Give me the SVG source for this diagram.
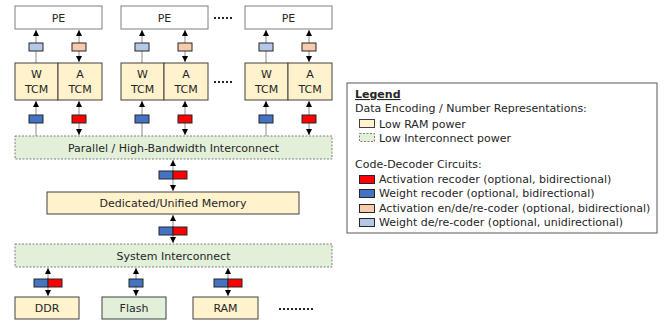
<svg xmlns="http://www.w3.org/2000/svg" width="664" height="324" viewBox="0 0 664 324">
<style>
text{font-family:"DejaVu Sans","Liberation Sans",sans-serif;font-size:11px;fill:#262626}
.lg text{font-size:11px}
.pe{fill:#fff;stroke:#7f7f7f;stroke-width:1}
.mem{fill:#fff2cc;stroke:#404040;stroke-width:1}
.ic{fill:#e2f0d9;stroke:#7f7f7f;stroke-width:1;stroke-dasharray:2,1.5}
.fl{fill:#e2f0d9;stroke:#404040;stroke-width:1}
.blue{fill:#4472c4;stroke:#262626;stroke-width:1}
.red{fill:#ff0000;stroke:#262626;stroke-width:1}
.peach{fill:#f8cbad;stroke:#262626;stroke-width:1}
.lb{fill:#b4c7e7;stroke:#262626;stroke-width:1}
.ln{stroke:#8c8c8c;stroke-width:1;fill:none}
.u{marker-end:url(#ah)}
.b{marker-start:url(#ah);marker-end:url(#ah)}
.dots{stroke:#262626;stroke-width:2;stroke-dasharray:2,2}
</style>
<defs>
<marker id="ah" viewBox="0 0 6 6" refX="6" refY="3" markerWidth="6" markerHeight="6" markerUnits="userSpaceOnUse" orient="auto-start-reverse">
<path d="M0,0 L6,3 L0,6 z" fill="#000"/>
</marker>
</defs>

<g id="connectors">
<line class="ln u" x1="36" y1="63" x2="36" y2="30"/>
<line class="ln b" x1="79" y1="30" x2="79" y2="62"/>
<line class="ln u" x1="142" y1="63" x2="142" y2="30"/>
<line class="ln b" x1="185" y1="30" x2="185" y2="62"/>
<line class="ln u" x1="266" y1="63" x2="266" y2="30"/>
<line class="ln b" x1="309" y1="30" x2="309" y2="62"/>
<line class="ln u" x1="36" y1="136" x2="36" y2="101"/>
<line class="ln b" x1="79" y1="101" x2="79" y2="135"/>
<line class="ln u" x1="142" y1="136" x2="142" y2="101"/>
<line class="ln b" x1="185" y1="101" x2="185" y2="135"/>
<line class="ln u" x1="266" y1="136" x2="266" y2="101"/>
<line class="ln b" x1="309" y1="101" x2="309" y2="135"/>
<line class="ln b" x1="173" y1="160" x2="173" y2="191"/>
<line class="ln b" x1="173" y1="215" x2="173" y2="243"/>
<line class="ln b" x1="48" y1="268" x2="48" y2="296"/>
<line class="ln b" x1="136" y1="268" x2="136" y2="296"/>
<line class="ln b" x1="228" y1="268" x2="228" y2="296"/>
</g>

<g id="pe1"><rect class="pe" x="15" y="6" width="87" height="23"/><text x="58.5" y="21.5" text-anchor="middle">PE</text></g>
<g id="pe2"><rect class="pe" x="121" y="6" width="87" height="23"/><text x="164.5" y="21.5" text-anchor="middle">PE</text></g>
<g id="pe3"><rect class="pe" x="245" y="6" width="87" height="23"/><text x="288.5" y="21.5" text-anchor="middle">PE</text></g>
<g id="dots-pe"><line class="dots" x1="214" y1="18" x2="234" y2="18"/></g>

<g id="tcm1">
<rect class="mem" x="15" y="63" width="43" height="37"/><rect class="mem" x="58" y="63" width="44" height="37"/>
<text x="36.5" y="78" text-anchor="middle">W</text><text x="36.5" y="93" text-anchor="middle">TCM</text>
<text x="80" y="78" text-anchor="middle">A</text><text x="80" y="93" text-anchor="middle">TCM</text>
</g>
<g id="tcm2">
<rect class="mem" x="121" y="63" width="43" height="37"/><rect class="mem" x="164" y="63" width="44" height="37"/>
<text x="142.5" y="78" text-anchor="middle">W</text><text x="142.5" y="93" text-anchor="middle">TCM</text>
<text x="186" y="78" text-anchor="middle">A</text><text x="186" y="93" text-anchor="middle">TCM</text>
</g>
<g id="tcm3">
<rect class="mem" x="245" y="63" width="43" height="37"/><rect class="mem" x="288" y="63" width="44" height="37"/>
<text x="266.5" y="78" text-anchor="middle">W</text><text x="266.5" y="93" text-anchor="middle">TCM</text>
<text x="310" y="78" text-anchor="middle">A</text><text x="310" y="93" text-anchor="middle">TCM</text>
</g>
<g id="dots-tcm"><line class="dots" x1="214" y1="82" x2="234" y2="82"/></g>

<g id="coders-upper">
<rect class="lb" x="29" y="43" width="14" height="8"/><rect class="peach" x="72" y="43" width="14" height="8"/>
<rect class="lb" x="135" y="43" width="14" height="8"/><rect class="peach" x="178" y="43" width="14" height="8"/>
<rect class="lb" x="259" y="43" width="14" height="8"/><rect class="peach" x="302" y="43" width="14" height="8"/>
</g>
<g id="coders-lower">
<rect class="blue" x="29" y="115" width="14" height="8"/><rect class="red" x="72" y="115" width="14" height="8"/>
<rect class="blue" x="135" y="115" width="14" height="8"/><rect class="red" x="178" y="115" width="14" height="8"/>
<rect class="blue" x="259" y="115" width="14" height="8"/><rect class="red" x="302" y="115" width="14" height="8"/>
</g>

<g id="parallel-ic"><rect class="ic" x="15" y="136" width="317" height="23"/><text x="173.5" y="151.5" text-anchor="middle">Parallel / High-Bandwidth Interconnect</text></g>

<g id="coder-c1"><rect class="blue" x="159" y="171" width="14" height="8"/><rect class="red" x="173" y="171" width="14" height="8"/></g>
<g id="memory"><rect class="mem" x="47" y="192" width="252" height="22"/><text x="173" y="207" text-anchor="middle">Dedicated/Unified Memory</text></g>
<g id="coder-c2"><rect class="blue" x="159" y="227" width="14" height="8"/><rect class="red" x="173" y="227" width="14" height="8"/></g>

<g id="system-ic"><rect class="ic" x="15" y="244" width="317" height="23"/><text x="173.5" y="259.5" text-anchor="middle">System Interconnect</text></g>

<g id="coder-ddr"><rect class="blue" x="34" y="279" width="14" height="8"/><rect class="red" x="48" y="279" width="14" height="8"/></g>
<g id="coder-flash"><rect class="blue" x="129" y="279" width="14" height="8"/></g>
<g id="coder-ram"><rect class="blue" x="214" y="279" width="14" height="8"/><rect class="red" x="228" y="279" width="14" height="8"/></g>

<g id="ddr"><rect class="mem" x="15" y="297" width="64" height="22"/><text x="47" y="312" text-anchor="middle">DDR</text></g>
<g id="flash"><rect class="fl" x="102" y="297" width="64" height="22"/><text x="134" y="312" text-anchor="middle">Flash</text></g>
<g id="ram"><rect class="mem" x="193" y="297" width="65" height="22"/><text x="225.5" y="312" text-anchor="middle">RAM</text></g>
<g id="dots-bottom"><line class="dots" x1="279" y1="309" x2="315" y2="309"/></g>

<g id="legend" class="lg">
<rect x="347" y="83" width="310" height="150" fill="#fff" stroke="#595959" stroke-width="1"/>
<text x="355" y="98" font-weight="bold" text-decoration="underline">Legend</text>
<text x="355" y="112">Data Encoding / Number Representations:</text>
<rect class="mem" x="359.5" y="119.5" width="15" height="8"/>
<text x="379" y="127.5">Low RAM power</text>
<rect class="ic" x="359.5" y="133.5" width="15" height="8"/>
<text x="379" y="141.5">Low Interconnect power</text>
<text x="355" y="168">Code-Decoder Circuits:</text>
<rect class="red" x="359.5" y="175.5" width="15" height="8"/>
<text x="379" y="183">Activation recoder (optional, bidirectional)</text>
<rect class="blue" x="359.5" y="189.5" width="15" height="8"/>
<text x="379" y="197">Weight recoder (optional, bidirectional)</text>
<rect class="peach" x="359.5" y="204.5" width="15" height="8"/>
<text x="379" y="212">Activation en/de/re-coder (optional, bidirectional)</text>
<rect class="lb" x="359.5" y="218.5" width="15" height="8"/>
<text x="379" y="226">Weight de/re-coder (optional, unidirectional)</text>
</g>
</svg>
